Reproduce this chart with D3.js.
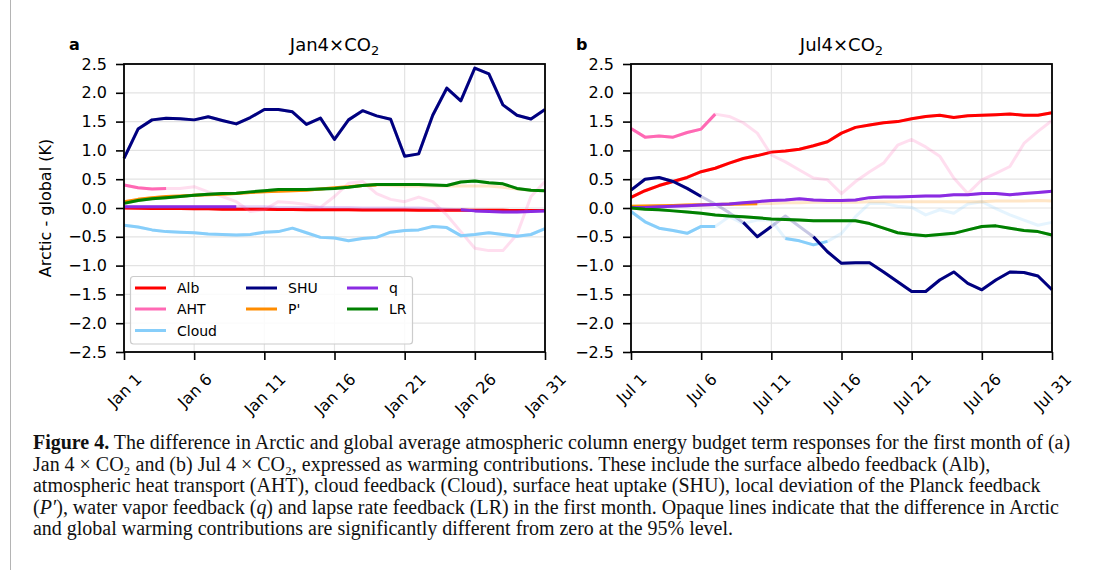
<!DOCTYPE html>
<html>
<head>
<meta charset="utf-8">
<script src="https://cdn.jsdelivr.net/npm/d3@7"></script>
<style>
  body { margin: 0; background: #fff; }
  svg { display: block; }
</style>
</head>
<body>
<svg id="fig" width="1093" height="570"></svg>
<script>
// ---- data -------------------------------------------------------------
const days = d3.range(1, 32);
const tickDays = [1, 6, 11, 16, 21, 26, 31];
const janTickLabels = ["Jan 1", "Jan 6", "Jan 11", "Jan 16", "Jan 21", "Jan 26", "Jan 31"];
const julTickLabels = ["Jul 1", "Jul 6", "Jul 11", "Jul 16", "Jul 21", "Jul 26", "Jul 31"];
const yTicks = [-2.5, -2.0, -1.5, -1.0, -0.5, 0.0, 0.5, 1.0, 1.5, 2.0, 2.5];

const seriesNames = ["Alb", "AHT", "Cloud", "SHU", "P'", "q", "LR"];
const seriesColors = ["#ff0000", "#ff69b4", "#87cefa", "#000080", "#ff8c00", "#8a2be2", "#008000"];

// Jan 4xCO2: Arctic minus global warming contributions (K)
const janAlb = [0.00,-0.005,-0.01,-0.01,-0.01,-0.015,-0.015,-0.02,-0.02,-0.02,-0.02,-0.025,-0.025,-0.03,-0.03,-0.03,-0.03,-0.035,-0.035,-0.035,-0.035,-0.04,-0.04,-0.04,-0.04,-0.04,-0.04,-0.04,-0.045,-0.045,-0.045];
const janAHT = [0.40,0.35,0.33,0.34,0.34,0.37,0.28,0.20,0.11,-0.06,-0.03,0.11,0.09,0.06,0.01,0.20,0.43,0.46,0.25,0.15,0.11,0.19,0.11,-0.12,-0.41,-0.70,-0.74,-0.74,-0.46,0.20,0.46];
const janCloud = [-0.30,-0.33,-0.38,-0.41,-0.42,-0.43,-0.45,-0.46,-0.47,-0.46,-0.42,-0.41,-0.35,-0.43,-0.51,-0.52,-0.57,-0.53,-0.51,-0.42,-0.39,-0.38,-0.32,-0.34,-0.48,-0.46,-0.43,-0.46,-0.49,-0.46,-0.36];
const janSHU = [0.86,1.37,1.53,1.56,1.55,1.53,1.585,1.52,1.46,1.57,1.71,1.71,1.67,1.45,1.56,1.19,1.53,1.69,1.60,1.54,0.90,0.94,1.61,2.08,1.86,2.43,2.33,1.79,1.61,1.545,1.71];
const janPprime = [0.11,0.15,0.18,0.20,0.21,0.22,0.23,0.24,0.25,0.27,0.28,0.29,0.30,0.31,0.33,0.35,0.37,0.39,0.40,0.39,0.38,0.38,0.38,0.38,0.38,0.38,0.38,0.36,0.33,0.31,0.30];
const janQ = [0.02,0.02,0.02,0.02,0.02,0.02,0.02,0.02,0.02,0.02,0.02,0.01,0.01,0.01,0.01,0.01,0.01,0.0,0.0,0.0,0.0,0.0,-0.01,-0.02,-0.03,-0.05,-0.06,-0.07,-0.07,-0.06,-0.05];
const janLR = [0.08,0.13,0.16,0.18,0.20,0.22,0.24,0.25,0.255,0.28,0.30,0.32,0.32,0.32,0.33,0.34,0.36,0.39,0.41,0.41,0.41,0.41,0.40,0.39,0.45,0.47,0.44,0.42,0.34,0.31,0.30];
// day ranges where the difference is significant (drawn opaque), in series order
const janSignificant = [[[1,31]], [[1,4]], [[1,31]], [[1,31]], [[1,19]], [[1,9],[25,31]], [[1,31]]];

// Jul 4xCO2
const julAlb = [0.185,0.30,0.39,0.46,0.53,0.63,0.69,0.78,0.86,0.91,0.97,0.99,1.02,1.08,1.15,1.30,1.40,1.44,1.48,1.50,1.55,1.59,1.61,1.57,1.60,1.61,1.62,1.63,1.61,1.61,1.655];
const julAHT = [1.38,1.23,1.25,1.23,1.31,1.37,1.63,1.59,1.48,1.30,0.92,0.80,0.66,0.52,0.49,0.25,0.46,0.63,0.78,1.09,1.19,1.06,0.90,0.52,0.25,0.49,0.60,0.72,1.12,1.33,1.52];
const julCloud = [-0.06,-0.24,-0.35,-0.39,-0.44,-0.32,-0.32,-0.15,-0.27,-0.21,-0.21,-0.53,-0.57,-0.64,-0.58,-0.44,-0.15,0.08,0.08,0.03,0.01,-0.12,-0.03,-0.09,0.07,0.11,-0.01,-0.12,-0.21,-0.30,-0.25];
const julSHU = [0.31,0.50,0.53,0.46,0.34,0.20,0.07,-0.08,-0.25,-0.50,-0.32,-0.14,-0.32,-0.50,-0.76,-0.96,-0.95,-0.95,-1.11,-1.28,-1.45,-1.45,-1.25,-1.11,-1.31,-1.42,-1.25,-1.11,-1.12,-1.18,-1.42];
const julPprime = [0.03,0.035,0.04,0.045,0.05,0.055,0.06,0.065,0.07,0.075,0.08,0.09,0.09,0.10,0.10,0.10,0.10,0.11,0.11,0.11,0.11,0.11,0.11,0.11,0.11,0.11,0.12,0.12,0.12,0.13,0.12];
const julQ = [0.01,0.01,0.02,0.03,0.04,0.05,0.06,0.07,0.09,0.11,0.13,0.14,0.16,0.14,0.13,0.13,0.14,0.18,0.19,0.19,0.20,0.21,0.21,0.23,0.23,0.25,0.25,0.23,0.25,0.27,0.29];
const julLR = [0.0,-0.02,-0.03,-0.05,-0.07,-0.09,-0.12,-0.14,-0.15,-0.17,-0.19,-0.20,-0.21,-0.22,-0.22,-0.22,-0.22,-0.27,-0.35,-0.43,-0.46,-0.48,-0.46,-0.44,-0.38,-0.32,-0.31,-0.35,-0.39,-0.41,-0.47];
const julSignificant = [[[1,31]], [[1,7]], [[1,7],[12,15]], [[1,6],[9,11],[14,31]], [[1,10]], [[1,31]], [[1,31]]];

// ---- layout -----------------------------------------------------------
const svg = d3.select("#fig");
const sansFont = "'DejaVu Sans', Verdana, sans-serif";
const plotTop = 64, plotBottom = 352;
const fadedOpacity = 0.22;
const fmt = v => d3.format(".1f")(v).replace("-", "\u2212");

const panels = [
  { left: 124, right: 545, letter: "a", month: "Jan", tickLabels: janTickLabels,
    values: [janAlb, janAHT, janCloud, janSHU, janPprime, janQ, janLR], sig: janSignificant, legend: true },
  { left: 631, right: 1052, letter: "b", month: "Jul", tickLabels: julTickLabels,
    values: [julAlb, julAHT, julCloud, julSHU, julPprime, julQ, julLR], sig: julSignificant, legend: false }
];

// thin frame line on the left of the figure
svg.append("line").attr("x1", 10.5).attr("x2", 10.5).attr("y1", 0).attr("y2", 570)
  .attr("stroke", "#b4b4b4").attr("stroke-width", 1);

panels.forEach((p, pi) => {
  const x = d3.scaleLinear().domain([1, 31]).range([p.left, p.right]);
  const y = d3.scaleLinear().domain([-2.5, 2.5]).range([plotBottom, plotTop]);
  const g = svg.append("g");

  // grid
  g.append("g").selectAll("line").data(yTicks).join("line")
    .attr("x1", p.left).attr("x2", p.right)
    .attr("y1", d => y(d)).attr("y2", d => y(d))
    .attr("stroke", "#e3e3e3").attr("stroke-width", 1.2);
  g.append("g").selectAll("line").data(tickDays).join("line")
    .attr("x1", d => x(d)).attr("x2", d => x(d))
    .attr("y1", plotTop).attr("y2", plotBottom)
    .attr("stroke", "#e3e3e3").attr("stroke-width", 1.2);

  // series: faint full line, opaque where significant
  const line = d3.line().x(d => x(d.day)).y(d => y(d.v)).curve(d3.curveLinear);
  p.values.forEach((vals, si) => {
    const pts = days.map((d, i) => ({ day: d, v: vals[i] }));
    const sg = g.append("g").attr("class", "series-" + si);
    sg.append("path").attr("d", line(pts))
      .attr("fill", "none").attr("stroke", seriesColors[si])
      .attr("stroke-opacity", fadedOpacity).attr("stroke-width", 3)
      .attr("stroke-linejoin", "round").attr("stroke-linecap", "butt");
    p.sig[si].forEach(([a, b]) => {
      const seg = pts.filter(d => d.day >= a && d.day <= b);
      sg.append("path").attr("d", line(seg))
        .attr("fill", "none").attr("stroke", seriesColors[si])
        .attr("stroke-width", 3)
        .attr("stroke-linejoin", "round").attr("stroke-linecap", "butt");
    });
  });

  // y axis
  const yAxis = g.append("g").attr("transform", `translate(${p.left},0)`)
    .call(d3.axisLeft(y).tickValues(yTicks).tickSize(8).tickPadding(9).tickFormat(fmt));
  yAxis.select(".domain").remove();
  yAxis.selectAll(".tick line").attr("stroke", "#000").attr("stroke-width", 1.6);
  yAxis.selectAll(".tick text").attr("font-family", sansFont).attr("font-size", 16)
    .attr("fill", "#000");

  // x axis ticks with rotated labels
  const xAxis = g.append("g").attr("transform", `translate(0,${plotBottom})`)
    .call(d3.axisBottom(x).tickValues(tickDays).tickSize(8).tickFormat((d, i) => p.tickLabels[i]));
  xAxis.select(".domain").remove();
  xAxis.selectAll(".tick line").attr("stroke", "#000").attr("stroke-width", 1.6);
  xAxis.selectAll(".tick text")
    .attr("font-family", sansFont).attr("font-size", 16).attr("fill", "#000")
    .attr("text-anchor", "middle").attr("dy", null)
    .each(function () {
      const t = d3.select(this);
      const w = this.getComputedTextLength();
      const cy = 20 + (w + 12) * 0.3536;
      t.attr("y", cy).attr("dy", "0.36em")
        .attr("transform", `rotate(-45,0,${cy})`);
    });

  // frame
  g.append("rect").attr("x", p.left).attr("y", plotTop)
    .attr("width", p.right - p.left).attr("height", plotBottom - plotTop)
    .attr("fill", "none").attr("stroke", "#000").attr("stroke-width", 1.8);

  // title & panel letter
  const title = g.append("text").attr("x", (p.left + p.right) / 2).attr("y", 51)
    .attr("text-anchor", "middle").attr("font-family", sansFont).attr("font-size", 18).attr("fill", "#000");
  title.append("tspan").text(p.month + "4\u00d7CO");
  title.append("tspan").attr("font-size", 13).attr("dy", 4).text("2");
  g.append("text").attr("x", p.left - 55).attr("y", 50)
    .attr("font-family", sansFont).attr("font-size", 16).attr("font-weight", "bold").attr("fill", "#000")
    .text(p.letter);

  if (pi === 0) {
    g.append("text").attr("transform", `translate(51,${(plotTop + plotBottom) / 2}) rotate(-90)`)
      .attr("text-anchor", "middle").attr("font-family", sansFont).attr("font-size", 16).attr("fill", "#000")
      .text("Arctic - global (K)");
  }

  // legend (three columns, filled column by column)
  if (p.legend) {
    const lg = g.append("g");
    lg.append("rect").attr("x", 130.5).attr("y", 276.5).attr("width", 282).attr("height", 67.5)
      .attr("rx", 3).attr("fill", "#fff").attr("fill-opacity", 0.85)
      .attr("stroke", "#cccccc").attr("stroke-width", 1.2);
    const colX = [135, 246, 347];
    const rowY = [288, 309, 330.5];
    seriesNames.forEach((name, i) => {
      const col = i < 3 ? 0 : (i < 5 ? 1 : 2);
      const row = i < 3 ? i : (i < 5 ? i - 3 : i - 5);
      const lx = colX[col], ly = rowY[row];
      lg.append("line").attr("x1", lx).attr("x2", lx + 31).attr("y1", ly).attr("y2", ly)
        .attr("stroke", seriesColors[i]).attr("stroke-width", 3);
      lg.append("text").attr("x", lx + 42).attr("y", ly).attr("dy", "0.36em")
        .attr("font-family", sansFont).attr("font-size", 14).attr("fill", "#000").text(name);
    });
  }
});

// ---- caption ----------------------------------------------------------
const captionLines = [
  [{ t: "Figure 4.", b: true }, { t: " The difference in Arctic and global average atmospheric column energy budget term responses for the first month of (a)" }],
  [{ t: "Jan 4 \u00d7 CO\u2082 and (b) Jul 4 \u00d7 CO\u2082, expressed as warming contributions. These include the surface albedo feedback (Alb)," }],
  [{ t: "atmospheric heat transport (AHT), cloud feedback (Cloud), surface heat uptake (SHU), local deviation of the Planck feedback" }],
  [{ t: "(" }, { t: "P\u2032", i: true }, { t: "), water vapor feedback (" }, { t: "q", i: true }, { t: ") and lapse rate feedback (LR) in the first month. Opaque lines indicate that the difference in Arctic" }],
  [{ t: "and global warming contributions are significantly different from zero at the 95% level." }]
];
const captionY = [449, 470.5, 492, 513.5, 535];
const cap = svg.append("g").attr("font-family", "'Liberation Serif', 'Times New Roman', serif").attr("fill", "#111");
let capSize = 16;
cap.attr("font-size", capSize);
const capTexts = captionLines.map((segs, li) => {
  const t = cap.append("text").attr("x", 33).attr("y", captionY[li]);
  segs.forEach(s => {
    const ts = t.append("tspan").text(s.t);
    if (s.b) ts.attr("font-weight", "bold");
    if (s.i) ts.attr("font-style", "italic");
  });
  return t;
});
// size the caption so the first line spans the text block width
const w0 = capTexts[0].node().getComputedTextLength();
capSize = capSize * 1038 / w0;
cap.attr("font-size", capSize);
</script>
</body>
</html>
